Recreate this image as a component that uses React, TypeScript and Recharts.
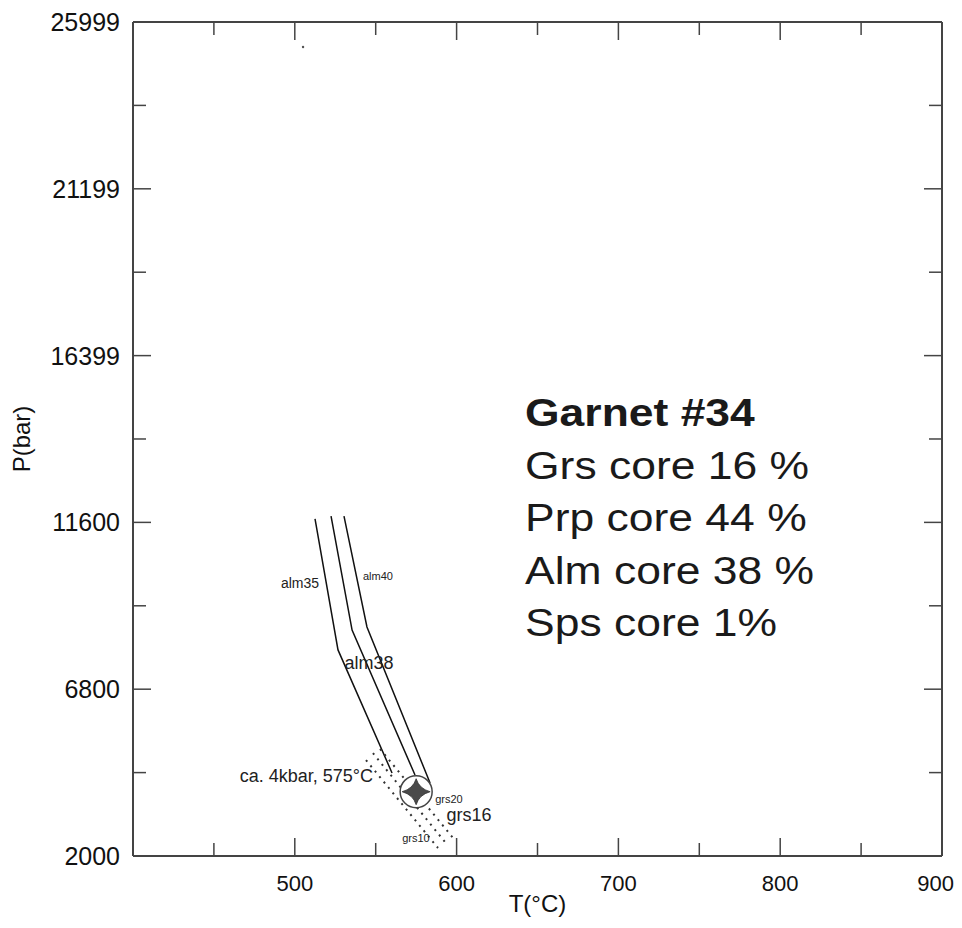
import React from 'react';
import {
  ComposedChart,
  Line,
  Scatter,
  XAxis,
  YAxis,
} from 'recharts';

// P-T grid of the garnet isopleths (T in °C, P in bar)
const tMajorTicks = [400, 500, 600, 700, 800, 900];
const tMinorTicks = [450, 550, 650, 750, 850];
const tTickLabels = [500, 600, 700, 800, 900];

const pMajorTicks = [2000, 6800, 11600, 16399, 21199, 25999];
const pMinorTicks = [4400, 9200, 14000, 18799, 23599];

// almandine isopleths (solid)
const alm35 = [
  { t: 512.5, p: 11700 },
  { t: 526.7, p: 7930 },
  { t: 560.1, p: 4390 },
];
const alm38 = [
  { t: 522.4, p: 11780 },
  { t: 535.4, p: 8500 },
  { t: 574.3, p: 4330 },
];
const alm40 = [
  { t: 530.4, p: 11780 },
  { t: 544.6, p: 8590 },
  { t: 583.6, p: 4100 },
];

// grossular isopleths (dotted)
const grs10 = [
  { t: 544.0, p: 4760 },
  { t: 588.5, p: 2230 },
];
const grs16 = [
  { t: 548.3, p: 4960 },
  { t: 593.4, p: 2370 },
];
const grs20 = [
  { t: 552.7, p: 5080 },
  { t: 597.8, p: 2520 },
];

// estimated P-T point
const ptEstimate = [{ t: 575, p: 3850 }];
const strayMark = [{ t: 505.1, p: 25280 }];

const isoLabels = [
  { t: 503.2, p: 9860, text: 'alm35', kind: 'small' },
  { t: 551.4, p: 10060, text: 'alm40', kind: 'tiny' },
  { t: 545.9, p: 7550, text: 'alm38', kind: 'big' },
  { t: 548.3, p: 4300, text: 'ca. 4kbar, 575°C', kind: 'note' },
  { t: 595.3, p: 3640, text: 'grs20', kind: 'tiny' },
  { t: 607.7, p: 3180, text: 'grs16', kind: 'big' },
  { t: 574.9, p: 2520, text: 'grs10', kind: 'tiny' },
];

const garnetTitle = 'Garnet #34';
const garnetLines = ['Grs core 16 %', 'Prp core 44 %', 'Alm core 38 %', 'Sps core 1%'];
const garnetAnchor = [{ t: 642.3, p: 14370 }];

const FONT = '"Liberation Sans", Arial, Helvetica, sans-serif';
const AXIS = '#444';

const labelStyle: Record<string, { size: number; anchor: 'middle' | 'end' }> = {
  tiny: { size: 11, anchor: 'middle' },
  small: { size: 14, anchor: 'middle' },
  big: { size: 18, anchor: 'middle' },
  note: { size: 18, anchor: 'end' },
};

const allT = [...tMajorTicks, ...tMinorTicks].sort((a, b) => a - b);
const allP = [...pMajorTicks, ...pMinorTicks].sort((a, b) => a - b);
const tLast = tTickLabels[tTickLabels.length - 1];

const BottomTick = (props: any) => {
  const { x, y, payload } = props;
  const v = payload.value;
  const len = tMajorTicks.includes(v) ? 18 : 13;
  // last label sits on the corner; keep it inside the page
  const isLast = v === tLast;
  return (
    <g>
      <line x1={x} y1={y} x2={x} y2={y - len} stroke={AXIS} strokeWidth={1.5} />
      {tTickLabels.includes(v) && (
        <text
          x={isLast ? x + 12 : x}
          y={y + 35}
          textAnchor={isLast ? 'end' : 'middle'}
          fontSize={22}
          fill="#111"
          fontFamily={FONT}
        >
          {v}
        </text>
      )}
    </g>
  );
};

const TopTick = (props: any) => {
  const { x, y, payload } = props;
  const len = tMajorTicks.includes(payload.value) ? 18 : 13;
  return <line x1={x} y1={y} x2={x} y2={y + len} stroke={AXIS} strokeWidth={1.5} />;
};

const LeftTick = (props: any) => {
  const { x, y, payload } = props;
  const v = payload.value;
  const major = pMajorTicks.includes(v);
  return (
    <g>
      <line x1={x} y1={y} x2={x + (major ? 18 : 13)} y2={y} stroke={AXIS} strokeWidth={1.5} />
      {major && (
        <text x={x - 13} y={y + 9} textAnchor="end" fontSize={25} fill="#111" fontFamily={FONT}>
          {v}
        </text>
      )}
    </g>
  );
};

const RightTick = (props: any) => {
  const { x, y, payload } = props;
  const len = pMajorTicks.includes(payload.value) ? 18 : 13;
  return <line x1={x} y1={y} x2={x - len} y2={y} stroke={AXIS} strokeWidth={1.5} />;
};

const EstimateMarker = (props: any) => {
  const { cx, cy } = props;
  if (cx == null || cy == null) return null;
  const star = `M ${cx - 14} ${cy} Q ${cx - 3} ${cy - 3} ${cx} ${cy - 13} Q ${cx + 3} ${cy - 3} ${cx + 14} ${cy} Q ${cx + 3} ${cy + 3} ${cx} ${cy + 13} Q ${cx - 3} ${cy + 3} ${cx - 14} ${cy} Z`;
  return (
    <g>
      <circle cx={cx} cy={cy} r={16} fill="#fff" stroke={AXIS} strokeWidth={1.5} />
      <path d={star} fill="#4a4a4a" stroke="#333" strokeWidth={0.8} />
    </g>
  );
};

const IsoLabel = (props: any) => {
  const { cx, cy, payload } = props;
  if (cx == null || cy == null) return null;
  const st = labelStyle[payload.kind];
  return (
    <text
      x={cx}
      y={cy}
      textAnchor={st.anchor}
      dominantBaseline="central"
      fontSize={st.size}
      fill="#222"
      fontFamily={FONT}
    >
      {payload.text}
    </text>
  );
};

const GarnetBlock = (props: any) => {
  const { cx, cy } = props;
  if (cx == null || cy == null) return null;
  return (
    <g transform={`translate(${cx},${cy}) scale(1.17,1)`}>
      <text x={0} y={0} fontSize={38} fontWeight="bold" fill="#1a1a1a" fontFamily={FONT}>
        {garnetTitle}
      </text>
      {garnetLines.map((s, i) => (
        <text key={s} x={0} y={52.5 * (i + 1)} fontSize={38} fill="#1a1a1a" fontFamily={FONT}>
          {s}
        </text>
      ))}
    </g>
  );
};

const solid = { stroke: '#111', strokeWidth: 1.5 };
const dotted = { stroke: '#333', strokeWidth: 2, strokeDasharray: '2 5' };

export default function App() {
  return (
    <div style={{ width: 954, height: 912, fontFamily: FONT }}>
      <ComposedChart
        width={954}
        height={912}
        margin={{ top: 10, right: 16, bottom: 14, left: 20 }}
      >
        <XAxis
          xAxisId="b"
          type="number"
          dataKey="t"
          domain={[400, 900]}
          ticks={allT}
          interval={0}
          height={50}
          tickSize={0}
          tickMargin={0}
          tickLine={false}
          tick={BottomTick}
          axisLine={{ stroke: AXIS, strokeWidth: 2 }}
          allowDataOverflow
          label={{
            content: (p: any) => {
              const vb = p.viewBox;
              return (
                <text x={vb.x + vb.width / 2} y={vb.y + 56} textAnchor="middle" fontSize={24} fill="#111" fontFamily={FONT}>
                  T(°C)
                </text>
              );
            },
          }}
        />
        <XAxis
          xAxisId="top"
          orientation="top"
          type="number"
          dataKey="t"
          domain={[400, 900]}
          ticks={allT}
          interval={0}
          height={4}
          tickSize={0}
          tickMargin={0}
          tickLine={false}
          tick={TopTick}
          axisLine={{ stroke: AXIS, strokeWidth: 2 }}
          allowDataOverflow
        />
        <YAxis
          yAxisId="l"
          type="number"
          domain={[2000, 25999]}
          ticks={allP}
          interval={0}
          width={105}
          tickSize={0}
          tickMargin={0}
          tickLine={false}
          tick={LeftTick}
          axisLine={{ stroke: AXIS, strokeWidth: 2 }}
          allowDataOverflow
          label={{
            content: (p: any) => {
              const vb = p.viewBox;
              const lx = vb.x + 2;
              const ly = vb.y + vb.height / 2;
              return (
                <text
                  x={lx}
                  y={ly}
                  transform={`rotate(-90 ${lx} ${ly})`}
                  textAnchor="middle"
                  fontSize={24}
                  fill="#111"
                  fontFamily={FONT}
                >
                  P(bar)
                </text>
              );
            },
          }}
        />
        <YAxis
          yAxisId="r"
          orientation="right"
          type="number"
          domain={[2000, 25999]}
          ticks={allP}
          interval={0}
          width={4}
          tickSize={0}
          tickMargin={0}
          tickLine={false}
          tick={RightTick}
          axisLine={{ stroke: AXIS, strokeWidth: 2 }}
          allowDataOverflow
        />

        <Line xAxisId="b" yAxisId="l" data={alm35} dataKey="p" type="linear" dot={false} activeDot={false} {...solid} isAnimationActive={false} />
        <Line xAxisId="b" yAxisId="l" data={alm38} dataKey="p" type="linear" dot={false} activeDot={false} {...solid} isAnimationActive={false} />
        <Line xAxisId="b" yAxisId="l" data={alm40} dataKey="p" type="linear" dot={false} activeDot={false} {...solid} isAnimationActive={false} />

        <Line xAxisId="b" yAxisId="l" data={grs10} dataKey="p" type="linear" dot={false} activeDot={false} {...dotted} isAnimationActive={false} />
        <Line xAxisId="b" yAxisId="l" data={grs16} dataKey="p" type="linear" dot={false} activeDot={false} {...dotted} isAnimationActive={false} />
        <Line xAxisId="b" yAxisId="l" data={grs20} dataKey="p" type="linear" dot={false} activeDot={false} {...dotted} isAnimationActive={false} />

        <Scatter xAxisId="b" yAxisId="l" data={ptEstimate} dataKey="p" shape={EstimateMarker} isAnimationActive={false} />
        <Scatter xAxisId="b" yAxisId="l" data={strayMark} dataKey="p" fill="#555" shape={(p: any) => <circle cx={p.cx} cy={p.cy} r={1.2} fill="#555" />} isAnimationActive={false} />
        <Scatter xAxisId="b" yAxisId="l" data={isoLabels} dataKey="p" shape={IsoLabel} isAnimationActive={false} />
        <Scatter xAxisId="b" yAxisId="l" data={garnetAnchor} dataKey="p" shape={GarnetBlock} isAnimationActive={false} />
      </ComposedChart>
    </div>
  );
}
